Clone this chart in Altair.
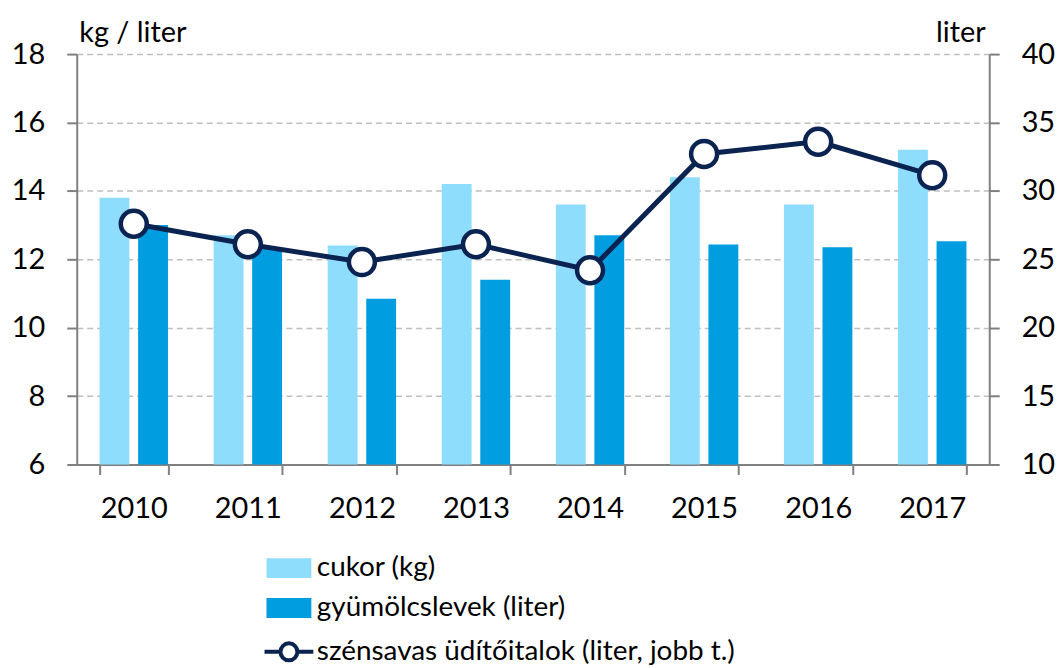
import altair as alt
import pandas as pd

years = ["2010", "2011", "2012", "2013", "2014", "2015", "2016", "2017"]
cukor = [13.8, 12.7, 12.4, 14.2, 13.6, 14.4, 13.6, 15.2]
gyumolcs = [13.0, 12.3, 10.85, 11.4, 12.7, 12.43, 12.35, 12.53]
szensavas = [27.6, 26.1, 24.8, 26.1, 24.2, 32.7, 33.6, 31.15]

s1 = "cukor (kg)"
s2 = "gyümölcslevek (liter)"
s3 = "szénsavas üdítőitalok (liter, jobb t.)"

FONT = "Lato"

bars_df = pd.DataFrame(
    [{"year": y, "series": s1, "value": v} for y, v in zip(years, cukor)]
    + [{"year": y, "series": s2, "value": v} for y, v in zip(years, gyumolcs)]
)
line_df = pd.DataFrame({"year": years, "series": s3, "value": szensavas})

xscale = alt.Scale(domain=years, paddingInner=0.4, paddingOuter=0.2)
xaxis = alt.Axis(
    title=None, labelFont=FONT, labelFontSize=29, labelColor="#000000",
    labelAngle=0, tickBand="extent", tickSize=10, tickColor="#808080", tickWidth=2,
    domainColor="#808080", domainWidth=2, labelPadding=20, grid=False,
)

bars = alt.Chart(bars_df).mark_bar(clip=True).encode(
    x=alt.X("year:N", scale=xscale, axis=xaxis),
    xOffset=alt.XOffset("series:N", scale=alt.Scale(domain=[s1, s2], paddingInner=0.225)),
    y=alt.Y(
        "value:Q",
        scale=alt.Scale(domain=[6, 18], nice=False, zero=False),
        axis=alt.Axis(
            values=[6, 8, 10, 12, 14, 16, 18], title="kg / liter",
            titleAngle=0, titleAlign="left", titleBaseline="alphabetic",
            titleX=2, titleY=-13, titleFont=FONT, titleFontSize=29,
            titleFontWeight="normal", titleColor="#000000",
            labelFont=FONT, labelFontSize=29, labelColor="#000000",
            labelPadding=22, tickSize=10, tickColor="#808080", tickWidth=2,
            domainColor="#808080", domainWidth=2,
            grid=True, gridColor="#BFBFBF", gridDash=[6, 4], gridWidth=1.5,
        ),
    ),
    fill=alt.Fill(
        "series:N",
        scale=alt.Scale(domain=[s1, s2], range=["#8FDDFD", "#009EE0"]),
        legend=alt.Legend(
            title=None, orient="none", legendX=199, legendY=502,
            symbolType="M-2.25,-1H2.25V1H-2.25Z", symbolSize=400,
            symbolStrokeWidth=0, labelFont=FONT, labelFontSize=28,
            labelColor="#000000", labelOffset=14, rowPadding=12,
            labelLimit=600,
        ),
    ),
)

right_axis = alt.Axis(
    orient="right", values=[10, 15, 20, 25, 30, 35, 40], title="liter",
    titleAngle=0, titleAlign="right", titleBaseline="alphabetic",
    titleX=-4, titleY=-13, titleFont=FONT, titleFontSize=29,
    titleFontWeight="normal", titleColor="#000000",
    labelFont=FONT, labelFontSize=29, labelColor="#000000",
    labelPadding=22, tickSize=10, tickColor="#808080", tickWidth=2,
    domainColor="#808080", domainWidth=2, grid=False,
)

line_path = "M-2.45,0H-0.85M0.85,0A0.85,0.85,0,1,1,-0.85,0A0.85,0.85,0,1,1,0.85,0M0.85,0H2.45"
stroke_scale = alt.Scale(domain=[s3], range=["#0B2350"])

line = alt.Chart(line_df).mark_line(strokeWidth=5).encode(
    x=alt.X("year:N", scale=xscale, axis=xaxis),
    y=alt.Y("value:Q", scale=alt.Scale(domain=[10, 40], nice=False, zero=False), axis=right_axis),
    stroke=alt.Stroke(
        "series:N",
        scale=stroke_scale,
        legend=alt.Legend(
            title=None, orient="none", legendX=199, legendY=586,
            symbolType=line_path, symbolSize=400, symbolStrokeWidth=4,
            symbolFillColor="#FFFFFF", labelFont=FONT, labelFontSize=28,
            labelColor="#000000", labelOffset=14, labelLimit=700,
        ),
    ),
)

points = alt.Chart(line_df).mark_point(
    filled=False, fill="#FFFFFF", fillOpacity=1, size=680, strokeWidth=4.5, opacity=1
).encode(
    x=alt.X("year:N", scale=xscale, axis=xaxis),
    y=alt.Y("value:Q", scale=alt.Scale(domain=[10, 40], nice=False, zero=False), axis=None),
    stroke=alt.Stroke("series:N", scale=stroke_scale, legend=None),
)

chart = (
    alt.layer(bars, line, points)
    .resolve_scale(y="independent")
    .properties(
        width=916, height=412,
        padding={"left": 3, "top": 9, "right": 0, "bottom": 0},
    )
    .configure(background="#FFFFFF")
    .configure_view(stroke=None)
)

chart.save("out.html", embed_options={"renderer": "svg", "actions": False})
